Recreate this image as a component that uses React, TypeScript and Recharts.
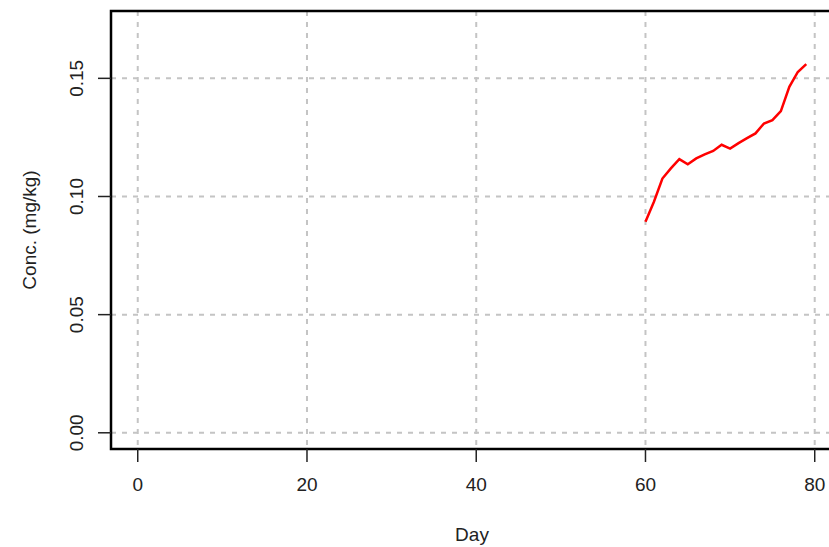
import React from 'react';
import {
    LineChart,
    Line,
    XAxis,
    YAxis,
    CartesianGrid,
    ReferenceArea,
} from 'recharts';

const days = [60, 61, 62, 63, 64, 65, 66, 67, 68, 69, 70, 71, 72, 73, 74, 75, 76, 77, 78, 79];
const conc = [
    0.0893, 0.0978, 0.1076, 0.1119, 0.1158, 0.1136, 0.1161, 0.1178, 0.1193, 0.1219,
    0.1203, 0.1226, 0.1247, 0.1267, 0.1309, 0.1323, 0.1361, 0.1464, 0.1527, 0.156,
];
const xTicks = [0, 20, 40, 60, 80];
const yTicks = [0, 0.05, 0.1, 0.15];

const X_DOMAIN: [number, number] = [-3.16, 82.16];
const Y_DOMAIN: [number, number] = [-0.00686, 0.1785];

const FONT = '"Liberation Sans", Arial, sans-serif';
const TEXT = '#222';

const data = days.map((d, i) => ({ day: d, conc: conc[i] }));

const YTick = (props: any) => {
    const { x, y, payload } = props;
    return (
        <text
            x={x}
            y={y}
            transform={`rotate(-90, ${x}, ${y})`}
            textAnchor="middle"
            fill={TEXT}
            fontSize={19}
            fontFamily={FONT}
        >
            {Number(payload.value).toFixed(2)}
        </text>
    );
};

const YTitle = (props: any) => {
    const { viewBox } = props;
    const cx = 36;
    const cy = viewBox.y + viewBox.height / 2;
    return (
        <text
            x={cx}
            y={cy}
            transform={`rotate(-90, ${cx}, ${cy})`}
            textAnchor="middle"
            fill={TEXT}
            fontSize={19}
            fontFamily={FONT}
        >
            Conc. (mg/kg)
        </text>
    );
};

const XTitle = (props: any) => {
    const { viewBox } = props;
    return (
        <text
            x={viewBox.x + viewBox.width / 2}
            y={540.5}
            textAnchor="middle"
            fill={TEXT}
            fontSize={19}
            fontFamily={FONT}
        >
            Day
        </text>
    );
};

export default function App() {
    return (
        <div
            style={{
                position: 'absolute',
                left: 0,
                top: 0,
                width: 829,
                height: 547,
                overflow: 'hidden',
                background: '#fff',
            }}
        >
            <LineChart
                width={845}
                height={547}
                data={data}
                margin={{ top: 11, right: 12, bottom: 0, left: 0 }}
            >
                <CartesianGrid
                    stroke="#c4c4c4"
                    strokeWidth={2}
                    strokeDasharray="5 6"
                />
                <XAxis
                    dataKey="day"
                    type="number"
                    domain={X_DOMAIN}
                    ticks={xTicks}
                    allowDataOverflow
                    height={98}
                    axisLine={false}
                    tickSize={13}
                    tickMargin={16}
                    tickLine={{ stroke: TEXT, strokeWidth: 1.5 }}
                    tick={{ fill: TEXT, fontSize: 19, fontFamily: FONT }}
                    label={{ content: XTitle }}
                />
                <YAxis
                    type="number"
                    domain={Y_DOMAIN}
                    ticks={yTicks}
                    allowDataOverflow
                    width={111}
                    axisLine={false}
                    tickSize={13}
                    tickMargin={15}
                    tickLine={{ stroke: TEXT, strokeWidth: 1.5 }}
                    tick={<YTick />}
                    label={{ content: YTitle }}
                />
                <ReferenceArea
                    x1={X_DOMAIN[0]}
                    x2={X_DOMAIN[1]}
                    y1={Y_DOMAIN[0]}
                    y2={Y_DOMAIN[1]}
                    fill="none"
                    fillOpacity={0}
                    stroke="#000"
                    strokeWidth={2.5}
                    ifOverflow="visible"
                />
                <Line
                    type="linear"
                    dataKey="conc"
                    stroke="#ff0000"
                    strokeWidth={2.5}
                    dot={false}
                    isAnimationActive={false}
                />
            </LineChart>
        </div>
    );
}
